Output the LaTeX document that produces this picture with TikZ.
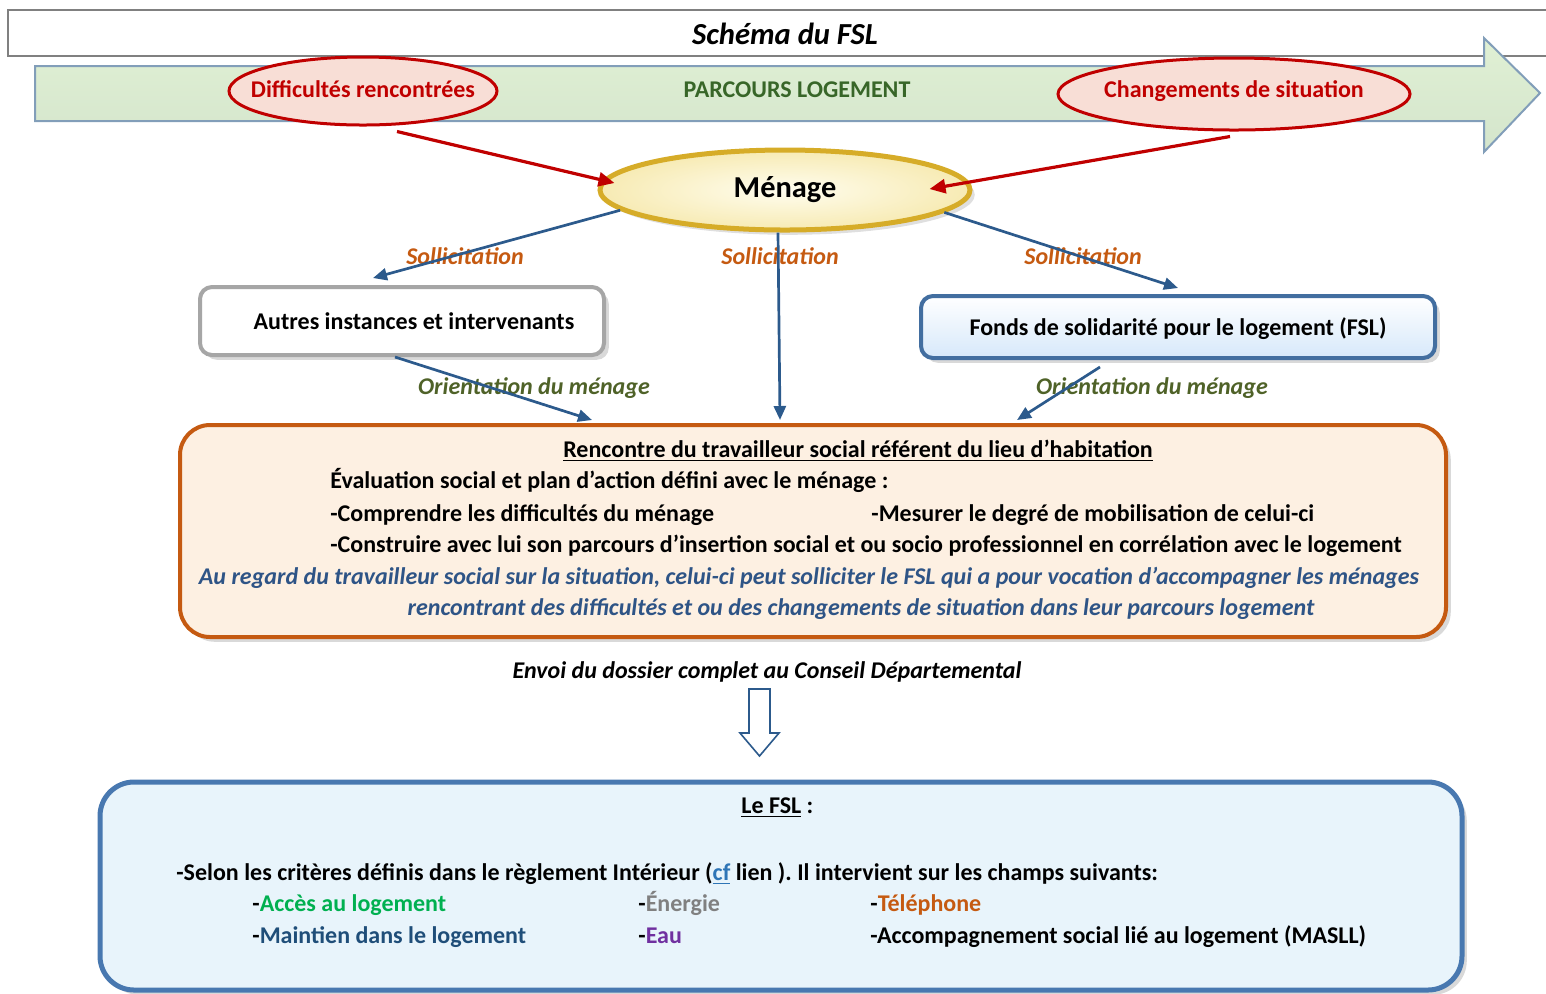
\documentclass[tikz,border=0pt]{standalone}
\usepackage{fontspec}
\setmainfont{Carlito}
\frenchspacing
\usetikzlibrary{shapes.geometric,shadows,arrows.meta,calc}
\definecolor{abl}{RGB}{44,90,140}
\definecolor{dred}{RGB}{192,0,0}
\definecolor{pinkf}{RGB}{248,222,214}
\definecolor{goldb}{RGB}{214,172,40}
\definecolor{yelf}{RGB}{255,250,214}
\definecolor{orng}{RGB}{197,90,17}
\definecolor{ogreen}{RGB}{79,98,40}
\definecolor{pgreen}{RGB}{56,102,40}
\definecolor{rencf}{RGB}{253,240,226}
\definecolor{itblue}{RGB}{46,84,134}
\definecolor{fslb}{RGB}{72,120,176}
\definecolor{fslf}{RGB}{232,244,251}
\definecolor{boxb}{RGB}{66,110,160}
\definecolor{boxf}{RGB}{214,232,250}
\definecolor{grayb}{RGB}{166,166,166}
\definecolor{arrb}{RGB}{130,158,185}
\definecolor{arrtop}{RGB}{224,240,212}
\definecolor{arrmid}{RGB}{246,251,240}
\definecolor{arrbot}{RGB}{212,229,204}
\definecolor{cgreen}{RGB}{0,176,80}
\definecolor{cgray}{RGB}{128,128,128}
\definecolor{cblue}{RGB}{31,78,121}
\definecolor{cpurp}{RGB}{112,48,160}
\definecolor{linkb}{RGB}{46,117,182}
\tikzset{
  txt/.style={font=\bfseries\fontsize{12}{14}\selectfont, inner sep=0pt, text height=2.2ex, text depth=.4ex},
  itxt/.style={txt, font=\bfseries\itshape\fontsize{12}{14}\selectfont},
  soll/.style={itxt, text=orng},
  orient/.style={itxt, text=ogreen},
  titlebox/.style={draw=cgray, line width=1pt, fill=white},
  redell/.style={ellipse, draw=dred, line width=1.5pt, fill=pinkf, inner sep=0pt},
  redtxt/.style={txt, text=dred},
  menell/.style={ellipse, draw=goldb, line width=2.5pt, inner color=white!60!yelf, outer color=yelf!80!goldb, font=\bfseries\fontsize{15.2}{18}\selectfont, drop shadow={opacity=0.25}},
  autbox/.style={draw=grayb, line width=2pt, rounded corners=6pt, fill=white, txt, drop shadow={opacity=0.3}},
  fslsm/.style={draw=boxb, line width=2pt, rounded corners=6pt, top color=white, bottom color=boxf, txt, drop shadow={opacity=0.3}},
  rencbox/.style={draw=orng, line width=2pt, rounded corners=15pt, fill=rencf, drop shadow={opacity=0.3}},
  fslbig/.style={draw=fslb, line width=2.5pt, rounded corners=17pt, fill=fslf, drop shadow={opacity=0.3}},
  barrow/.style={draw=abl, line width=1.35pt, -{Triangle[length=7pt,width=6pt]}},
  rarrow/.style={draw=dred, line width=1.6pt, -{Triangle[length=8pt,width=7pt]}},
}
\begin{document}
\begin{tikzpicture}[x=0.5pt,y=-0.5pt]
\useasboundingbox (0,0) rectangle (1546,993);
% title
\node[titlebox, minimum width=771pt, minimum height=23pt] (title) at (779,33) {};
\node[font=\bfseries\itshape\fontsize{15.3}{18}\selectfont, inner sep=0pt] (titletxt) at (785,34) {Schéma du FSL};
% parcours arrow
\shade[top color=arrtop, middle color=arrmid, bottom color=arrbot, draw=arrb, line width=1pt]
  (35,66) -- (1484,66) -- (1484,38) -- (1540,93) -- (1484,152) -- (1484,121) -- (35,121) -- cycle;
\node[txt, text=pgreen] (parcours) at (797,89) {PARCOURS LOGEMENT};
% ellipses
\node[redell, minimum width=134pt, minimum height=34pt, label={[redtxt, yshift=1pt]center:Difficultés rencontrées}] (diff) at (363,91) {};
\node[redell, minimum width=176pt, minimum height=36pt, label={[redtxt, yshift=2.5pt]center:Changements de situation}] (chg) at (1234,94) {};
\node[menell, minimum width=185pt, minimum height=40pt] (menage) at (785,190) {Ménage};
% boxes
\node[autbox, minimum width=202pt, minimum height=34pt, label={[txt, xshift=6pt]center:Autres instances et intervenants}] (autres) at (402,321) {};
\node[fslsm, minimum width=257pt, minimum height=31pt] (fsl) at (1178,327) {Fonds de solidarité pour le logement (FSL)};
\node[rencbox, minimum width=633pt, minimum height=106pt] (rencontre) at (813,531) {};
\node[fslbig, minimum width=681pt, minimum height=104pt] (lefsl) at (781,886) {};
% labels
\node[soll] (s1) at (465,256) {Sollicitation};
\node[soll] (s2) at (780,256) {Sollicitation};
\node[soll] (s3) at (1083,256) {Sollicitation};
\node[orient] (o1) at (534,386) {Orientation du ménage};
\node[orient] (o2) at (1152,386) {Orientation du ménage};
% red arrows
\draw[rarrow] ($(diff.south)+(34,5)$) -- ($(menage.west)+(17,-7)$);
\draw[rarrow] ($(chg.south)+(-4,5)$) -- ($(menage.east)+(-43,-1)$);
% blue arrows
\draw[barrow] (menage.187) -- ($(autres.north)+(-29,-7)$);
\draw[barrow] ($(menage.south)+(-7,0)$) -- ($(rencontre.north)+(-33,-3)$);
\draw[barrow] (menage.352) -- ($(fsl.north)+(0,-6)$);
\draw[barrow] ($(autres.south)+(-7,0)$) -- ($(rencontre.north)+(-221,-3)$);
\draw[barrow] ($(fsl.south)+(-78,7)$) -- ($(rencontre.north)+(204,-3)$);
% rencontre text
\node[txt] (r0) at (858,449) {\underline{Rencontre du travailleur social référent du lieu d’habitation}};
\node[txt, anchor=west] (r1) at (330,480) {Évaluation social et plan d’action défini avec le ménage :};
\node[txt, anchor=west] (r2) at (330,513) {-Comprendre les difficultés du ménage};
\node[txt, anchor=west] (r3) at (871,513) {-Mesurer le degré de mobilisation de celui-ci};
\node[txt, anchor=west] (r4) at (330,544) {-Construire avec lui son parcours d’insertion social et ou socio professionnel en corrélation avec le logement};
\node[itxt, text=itblue] (r5) at (809,576) {Au regard du travailleur social sur la situation, celui-ci peut solliciter le FSL qui a pour vocation d’accompagner les ménages};
\node[itxt, text=itblue] (r6) at (861,607) {rencontrant des difficultés et ou des changements de situation dans leur parcours logement};
% envoi
\node[itxt] (envoi) at (767,670) {Envoi du dossier complet au Conseil Départemental};
\draw[draw=abl, line width=0.8pt, fill=white] (749,689) -- (770,689) -- (770,733) -- (779,733) -- (759.5,756) -- (740,733) -- (749,733) -- cycle;
% le FSL text
\node[txt, anchor=west] (f0) at (741,805) {\underline{Le FSL} :};
\node[txt, anchor=west] (f1) at (176,872) {-Selon les critères définis dans le règlement Intérieur (\textcolor{linkb}{\underline{cf}} lien ). Il intervient sur les champs suivants:};
\node[txt, anchor=west] (f2) at (252,903) {-\textcolor{cgreen}{Accès au logement}};
\node[txt, anchor=west] (f3) at (638,903) {-\textcolor{cgray}{Énergie}};
\node[txt, anchor=west] (f4) at (870,903) {-\textcolor{orng}{Téléphone}};
\node[txt, anchor=west] (f5) at (252,935) {-\textcolor{cblue}{Maintien dans le logement}};
\node[txt, anchor=west] (f6) at (638,935) {-\textcolor{cpurp}{Eau}};
\node[txt, anchor=west] (f7) at (870,935) {-Accompagnement social lié au logement (MASLL)};
\end{tikzpicture}
\end{document}
